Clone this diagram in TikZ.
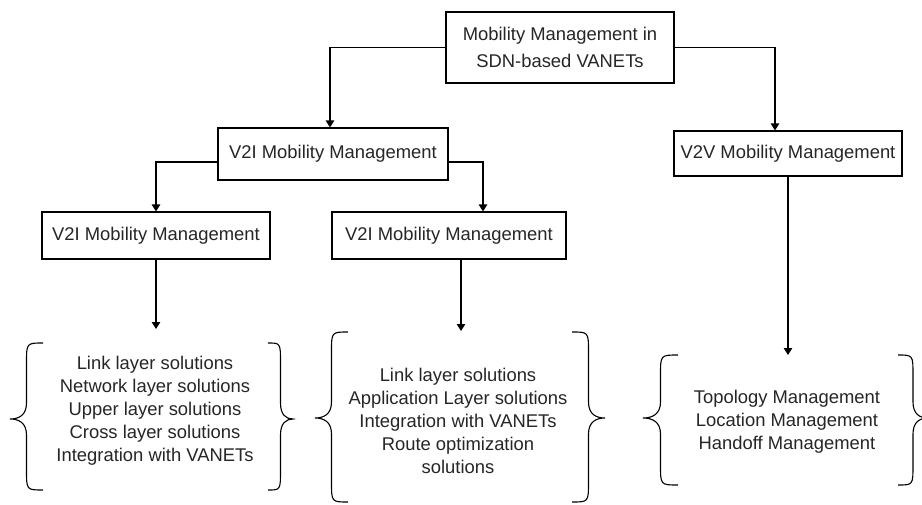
\documentclass[tikz,border=0pt]{standalone}
\usepackage{fontspec}
\setmainfont{Liberation Sans}
\usetikzlibrary{arrows.meta}

% curly brace: tip x, end x, top y, tip y, bottom y
\newcommand\curlybrace[5]{%
  \pgfmathsetmacro\bxm{(#1+#2)/2}%
  \pgfmathsetmacro\bxn{\bxm+0.45*(#1-\bxm)}%
  \draw[bracestyle] (#2,#3) .. controls (\bxm,#3) .. (\bxm,#3+20)
    -- (\bxm,#4-16) .. controls (\bxm,#4-4) and (\bxn,#4) .. (#1,#4)
    .. controls (\bxn,#4) and (\bxm,#4+4) .. (\bxm,#4+16)
    -- (\bxm,#5-20) .. controls (\bxm,#5) .. (#2,#5);%
}

\begin{document}
\begin{tikzpicture}[x=1pt,y=-1pt,
  txt/.style={font=\fontsize{18.4}{23}\selectfont, text=black!85},
  box/.style={txt, draw, line width=1.1pt, inner sep=0pt, align=center},
  list/.style={txt, align=center, inner sep=0pt},
  arr/.style={line width=1.1pt, -{Triangle[length=7pt,width=8.5pt]}},
  bracestyle/.style={line width=1.1pt}]
  \useasboundingbox[fill=white] (0,0) rectangle (922,504);

  % boxes
  \node[box, minimum width=228pt, minimum height=71pt,
        font=\fontsize{18.4}{27.5}\selectfont] (top) at (560,47.5)
        {Mobility Management in\\SDN-based VANETs};
  \node[box, minimum width=230pt, minimum height=52pt] (v2i) at (333,154) {V2I Mobility Management};
  \node[box, minimum width=228pt, minimum height=45pt] (v2v) at (788,153.5) {V2V Mobility Management};
  \node[box, minimum width=228pt, minimum height=47pt] (ma) at (156,235.5) {V2I Mobility Management};
  \node[box, minimum width=234pt, minimum height=47pt] (mb) at (449,235.5) {V2I Mobility Management};

  % solution lists
  \node[list] (la) at (155,411) {Link layer solutions\\Network layer solutions\\Upper layer solutions\\Cross layer solutions\\Integration with VANETs};
  \node[list] (lb) at (458,421) {Link layer solutions\\Application Layer solutions\\Integration with VANETs\\Route optimization\\solutions};
  \node[list] (lc) at (787,422) {Topology Management\\Location Management\\Handoff Management};

  % arrow end points above the braces
  \coordinate (ea) at (156,329);
  \coordinate (eb) at (461,331);
  \coordinate (ec) at (788,355);

  % connectors
  \draw[arr] (top.west) -| ([xshift=-3pt]v2i.north);
  \draw[arr] (top.east) -| ([xshift=-13pt]v2v.north);
  \draw[arr] ([yshift=-8pt]v2i.west) -| (ma.north);
  \draw[arr] ([yshift=-8pt]v2i.east) -| ([xshift=34pt]mb.north);
  \draw[arr] (ma.south) -- (ea);
  \draw[arr] ([xshift=12pt]mb.south) -- (eb);
  \draw[arr] (v2v.south) -- (ec);

  % braces
  \curlybrace{10}{43}{343}{419}{490}
  \curlybrace{293}{268}{343}{419}{490}
  \curlybrace{315}{348}{332}{418}{502}
  \curlybrace{605}{572}{332}{418}{502}
  \curlybrace{643}{678}{355}{418}{485}
  \curlybrace{928}{898}{355}{418}{485}
\end{tikzpicture}
\end{document}
